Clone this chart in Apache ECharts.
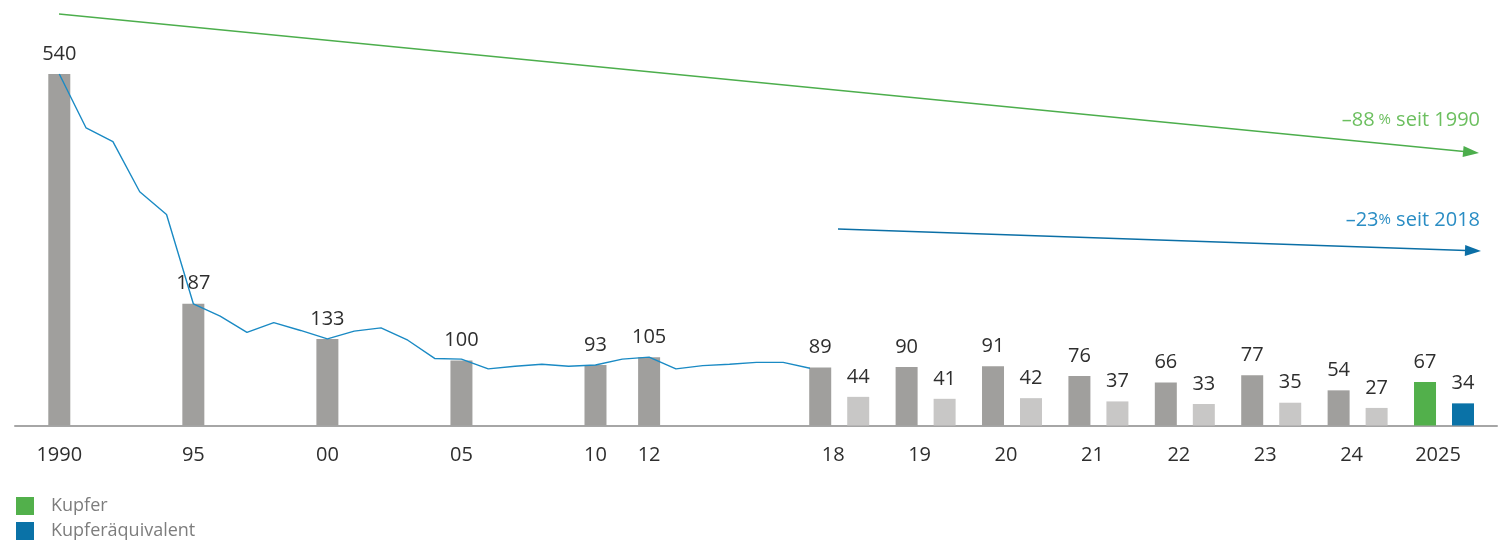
<!DOCTYPE html>
<html>
<head>
<meta charset="utf-8">
<script src="https://cdn.jsdelivr.net/npm/echarts@6/dist/echarts.min.js"></script>
<style>
html,body{margin:0;padding:0;background:#fff;}
#c{width:1512px;height:542px;}
</style>
</head>
<body>
<div id="c"></div>
<script>
// ---- data ----
const lineYears = [1990,1991,1992,1993,1994,1995,1996,1997,1998,1999,2000,2001,2002,2003,2004,2005,2006,2007,2008,2009,2010,2011,2012,2013,2014,2015,2016,2017,2018];
const lineValues = [540,457,436,359,324,187,168,143,158,146,133,145,150,131,103,102,87,91,94,91,93,102,105,87,92,94,97,97,88];

const earlyYears = [1990,1995,2000,2005,2010,2012];
const earlyValues = [540,187,133,100,93,105];

const recentYears = [2018,2019,2020,2021,2022,2023,2024];
const recentKupfer = [89,90,91,76,66,77,54];
const recentAequiv = [44,41,42,37,33,35,27];

const year2025 = 2025;
const kupfer2025 = 67;
const aequiv2025 = 34;

const tickYears = [1990,1995,2000,2005,2010,2012,2018,2019,2020,2021,2022,2023,2024,2025];
const tickLabels = ['1990','95','00','05','10','12','18','19','20','21','22','23','24','2025'];

// ---- layout of the broken year axis ----
const PX_PER_YEAR = 26.81;
const AXIS_MIN = 1988.348;
const AXIS_MAX = AXIS_MIN + 1482 / PX_PER_YEAR;
const RECENT_START = 2018.382;      // axis position of the 2018 pair
const RECENT_STEP = 3.2227;         // axis units per year from 2018 on
const PAIR_OFFSET = 38 / PX_PER_YEAR;
const LABEL_OFFSET = 13 / PX_PER_YEAR;

function recentPos(y){ return RECENT_START + (y - 2018) * RECENT_STEP; }
function tickPos(y){ return y < 2018 ? y : recentPos(y) + LABEL_OFFSET; }

const labelMap = {};
const tickValues = tickYears.map((y,i)=>{ const v = tickPos(y); labelMap[v.toFixed(4)] = tickLabels[i]; return v; });

const FONT = '"Open Sans", "Noto Sans", sans-serif';
const C_DARK = '#a09f9d', C_LIGHT = '#c8c7c6', C_GREEN = '#52b04b', C_BLUE = '#0a72a7';

const barLabel = {
  show: true, position: 'top', distance: 10,
  color: '#2e2e2e', fontSize: 20, fontFamily: FONT,
  formatter: p => p.value[1]
};
const barCommon = { type: 'bar', barWidth: 22, barGap: '-100%', label: barLabel, z: 2 };

const chart = echarts.init(document.getElementById('c'), null, {renderer: 'canvas'});
chart.setOption({
  animation: false,
  backgroundColor: '#fff',
  grid: { left: 15, right: 15, top: 425.5 - 600 * 0.651, bottom: 116.5, containLabel: false },
  xAxis: {
    type: 'value', min: AXIS_MIN, max: AXIS_MAX,
    splitLine: { show: false },
    axisLine: { show: true, lineStyle: { color: '#a6a6a6', width: 2 } },
    axisTick: { show: false },
    axisLabel: {
      customValues: tickValues,
      margin: 20, color: '#2e2e2e', fontSize: 20, fontFamily: FONT,
      formatter: v => labelMap[Number(v).toFixed(4)] || ''
    }
  },
  yAxis: { type: 'value', min: 0, max: 600, show: false, splitLine: { show: false } },
  legend: {
    orient: 'vertical', left: 16, top: 497, padding: 0,
    itemWidth: 18, itemHeight: 18, itemGap: 7,
    icon: 'rect',
    data: ['Kupfer', 'Kupferäquivalent'],
    textStyle: { color: '#7d7d7d', fontSize: 18, lineHeight: 18, fontFamily: FONT, padding: [0,0,0,12] },
    selectedMode: false
  },
  series: [
    Object.assign({}, barCommon, {
      name: 'historisch',
      itemStyle: { color: C_DARK },
      data: earlyYears.map((y,i)=>[y, earlyValues[i]]).concat(recentYears.map((y,i)=>[recentPos(y), recentKupfer[i]]))
    }),
    Object.assign({}, barCommon, {
      name: 'historisch Äquivalent',
      itemStyle: { color: C_LIGHT },
      data: recentYears.map((y,i)=>[recentPos(y) + PAIR_OFFSET, recentAequiv[i]])
    }),
    Object.assign({}, barCommon, {
      name: 'Kupfer',
      itemStyle: { color: C_GREEN },
      data: [[recentPos(year2025), kupfer2025]]
    }),
    Object.assign({}, barCommon, {
      name: 'Kupferäquivalent',
      itemStyle: { color: C_BLUE },
      data: [[recentPos(year2025) + PAIR_OFFSET, aequiv2025]]
    }),
    {
      type: 'line', name: 'Verlauf', z: 5,
      showSymbol: false, symbol: 'none',
      lineStyle: { color: '#1a8ac4', width: 1.4 },
      data: lineYears.map((y,i)=>[y, lineValues[i]])
    }
  ],
  graphic: [
    { type: 'line', shape: { x1: 59, y1: 14, x2: 1464, y2: 151.5 }, style: { stroke: '#4cae4c', lineWidth: 1.3 } },
    { type: 'polygon', shape: { points: [[1463.6,145.9],[1462.6,156.9],[1479,153]] }, style: { fill: '#4cae4c' } },
    { type: 'line', shape: { x1: 838, y1: 229, x2: 1466, y2: 250.5 }, style: { stroke: '#0b6fa6', lineWidth: 1.3 } },
    { type: 'polygon', shape: { points: [[1465.2,244.95],[1464.8,255.95],[1481,251]] }, style: { fill: '#0b6fa6' } },
    { type: 'text', x: 1480, y: 120, style: {
        text: '{a|–88}{b| %}{a| seit 1990}', align: 'right', verticalAlign: 'middle',
        rich: { a: { fontSize: 20, fontFamily: FONT, fill: '#6cbf5f', color: '#6cbf5f' }, b: { fontSize: 15, fontFamily: FONT, fill: '#6cbf5f', color: '#6cbf5f' } }
    }},
    { type: 'text', x: 1480, y: 220, style: {
        text: '{a|–23}{b|%}{a| seit 2018}', align: 'right', verticalAlign: 'middle',
        rich: { a: { fontSize: 20, fontFamily: FONT, fill: '#2a8dc4', color: '#2a8dc4' }, b: { fontSize: 15, fontFamily: FONT, fill: '#2a8dc4', color: '#2a8dc4' } }
    }}
  ]
});
</script>
</body>
</html>
